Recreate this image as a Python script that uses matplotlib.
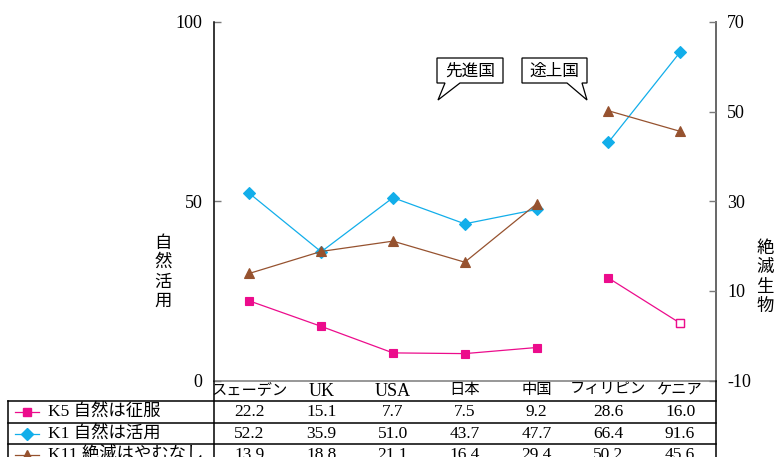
import matplotlib
matplotlib.use("Agg")
import matplotlib.pyplot as plt
import numpy as np
from matplotlib.transforms import Affine2D, blended_transform_factory
from matplotlib.patches import Polygon
from matplotlib.lines import Line2D

# ---- data -------------------------------------------------------------
countries = ["スェーデン", "UK", "USA", "日本", "中国", "フィリピン", "ケニア"]
k5_conquer = [22.2, 15.1, 7.7, 7.5, 9.2, 28.6, 16.0]       # left axis
k1_utilize = [52.2, 35.9, 51.0, 43.7, 47.7, 66.4, 91.6]    # left axis
k11_extinct = [13.9, 18.8, 21.1, 16.4, 29.4, 50.2, 45.6]   # right axis
series_labels = ["K5 自然は征服", "K1 自然は活用", "K11 絶滅はやむなし"]
groups = [[0, 1, 2, 3, 4], [5, 6]]                          # 先進国 / 途上国
group_labels = ["先進国", "途上国"]
left_ticks = [0, 50, 100]
right_ticks = [-10, 10, 30, 50, 70]
left_title = "自然活用"
right_title = "絶滅生物"

W, H = 774, 457
SERIF_JP = ["Liberation Serif", "Noto Sans CJK JP"]
JP = ["Noto Sans CJK JP", "DejaVu Sans"]

C_K5 = "#EC0C8C"
C_K1 = "#12AEEA"
C_K11 = "#96522F"

fig = plt.figure(figsize=(W / 100, H / 100), dpi=100)
# pixel coordinates measured from the top-left corner of the figure
pix = Affine2D().scale(1 / W, -1 / H).translate(0, 1) + fig.transFigure

L, R, T, B = 213.5, 716, 22, 380.5
ax = fig.add_axes([L / W, 1 - B / H, (R - L) / W, (B - T) / H])
ax2 = ax.twinx()

x = np.arange(len(countries))
ax.set_xlim(-0.5, len(countries) - 0.5)
ax.set_ylim(0, 100)
ax2.set_ylim(-10, 70)

styles = [
    (ax, k5_conquer, C_K5, "s", 5.5),
    (ax, k1_utilize, C_K1, "D", 6.0),
    (ax2, k11_extinct, C_K11, "^", 7.5),
]
for target, vals, col, mk, ms in styles:
    vals = np.asarray(vals)
    for g in groups:
        target.plot(x[g], vals[g], color=col, lw=0.9, marker=mk, ms=ms,
                    mfc=col, mec=col, mew=0.8, clip_on=False)

# Kenya's K5 point drawn as an open square
ax.plot(x[6], k5_conquer[6], "s", ms=5.5, mfc="white", mec=C_K5, mew=1.0,
        zorder=5)

# ---- axes styling --------------------------------------------------------
for a in (ax, ax2):
    a.spines["top"].set_visible(False)
ax.spines["left"].set_color("black")
ax.spines["bottom"].set_color("#7a7a7a")
ax2.spines["right"].set_color("#7a7a7a")
ax2.spines["left"].set_visible(False)
ax2.spines["bottom"].set_visible(False)
for a in (ax, ax2):
    for s in a.spines.values():
        s.set_linewidth(1.1)

ax.set_yticks(left_ticks)
ax.set_yticklabels([str(v) for v in left_ticks], family="Liberation Serif",
                   fontsize=13)
ax.tick_params(axis="y", direction="in", length=5, width=1.0,
               color="#7a7a7a", pad=8)
ax2.set_yticks(right_ticks)
ax2.set_yticklabels([str(v) for v in right_ticks], family="Liberation Serif",
                    fontsize=13)
ax2.tick_params(axis="y", direction="in", length=5, width=1.0,
                color="#7a7a7a", pad=8)

ax.set_xticks(x)
ax.set_xticklabels(countries, family=SERIF_JP)
for lab in ax.get_xticklabels():
    # Latin names in a larger serif, Japanese names in a compact sans
    lab.set_fontsize(13 if lab.get_text().isascii() else 11)
ax.tick_params(axis="x", length=0, pad=2)

# vertical axis titles, one character per line
def vertical_title(text, xc, yc, step=19.5):
    n = len(text)
    for i, ch in enumerate(text):
        y = yc + (i - (n - 1) / 2) * step
        fig.text(xc, y, ch, transform=pix, family=JP, fontsize=12.5,
                 ha="center", va="center")

vertical_title(left_title, 163, 272)
vertical_title(right_title, 765, 277)

# ---- data table under the chart ----------------------------------------
row_lines = [401, 422.5, 444]
row_centers = [411.5, 433.5, 455]
for y in row_lines:
    fig.add_artist(Line2D([8, R], [y, y], transform=pix, color="black",
                          lw=1.1))
fig.add_artist(Line2D([8, 8], [row_lines[0], H], transform=pix,
                      color="black", lw=1.1))
fig.add_artist(Line2D([L, L], [B, H], transform=pix, color="black", lw=1.1))
fig.add_artist(Line2D([R, R], [B, H], transform=pix, color="black", lw=1.1))

cell = blended_transform_factory(ax.transData, pix)
for (target, vals, col, mk, ms), label, yc in zip(styles, series_labels,
                                                  row_centers):
    fig.add_artist(Line2D([15, 39], [yc, yc], transform=pix, color=col,
                          lw=0.9))
    fig.add_artist(Line2D([27], [yc], transform=pix, marker=mk, ms=ms,
                          mfc=col, mec=col, lw=0))
    fig.text(48, yc, label, transform=pix, family=SERIF_JP, fontsize=12.5,
             ha="left", va="center")
    for xi, v in zip(x, vals):
        fig.text(xi, yc, f"{v:.1f}", transform=cell,
                 family="Liberation Serif", fontsize=12.5, ha="center",
                 va="center", clip_on=False)

# ---- callouts ----------------------------------------------------------
callouts = [
    # box left, top, right, bottom, tail base x0, x1, tip x, tip y
    (group_labels[0], 437, 58, 503, 83, 445, 460, 438, 100),
    (group_labels[1], 522, 58, 587, 83, 567, 582, 587, 100),
]
for text, x0, y0, x1, y1, b0, b1, tx, ty in callouts:
    verts = [(x0, y0), (x1, y0), (x1, y1), (b1, y1), (tx, ty),
             (b0, y1), (x0, y1)]
    fig.add_artist(Polygon(verts, closed=True, transform=pix,
                           facecolor="white", edgecolor="black", lw=0.9))
    fig.text((x0 + x1) / 2, (y0 + y1) / 2 + 0.5, text, transform=pix,
             family=JP, fontsize=12, ha="center", va="center")

fig.savefig("out.png", dpi=100)
